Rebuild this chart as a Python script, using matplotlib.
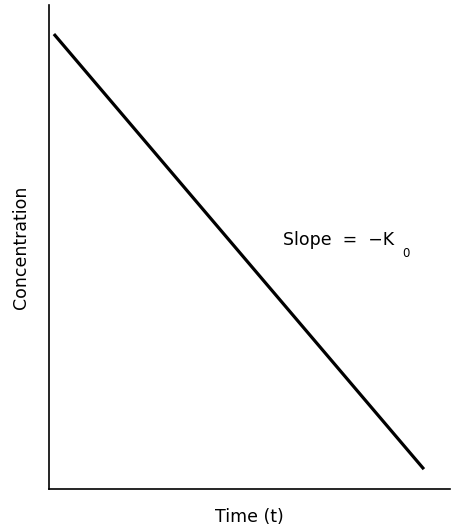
import matplotlib
matplotlib.use('Agg')
import matplotlib.pyplot as plt

# zero-order decline: concentration vs time (arbitrary units)
time = [1.1, 93.6]
conc = [94.0, 4.1]
xlabel = 'Time (t)'
ylabel = 'Concentration'

fig = plt.figure(figsize=[4.52, 5.29], dpi=100)
ax = fig.add_axes([49.5/452, 40/529, 400/452, 484/529])
ax.plot(time, conc, color='black', lw=2.3, solid_capstyle='butt')
ax.set_xlim(0, 100)
ax.set_ylim(0, 100)
for s in ['top', 'right']:
    ax.spines[s].set_visible(False)
for s in ['left', 'bottom']:
    ax.spines[s].set_linewidth(1.2)
ax.set_xticks([])
ax.set_yticks([])
ax.set_xlabel(xlabel, fontsize=12.5, labelpad=14)
ax.set_ylabel(ylabel, fontsize=12.5, labelpad=14)
# slope annotation, K with a small subscript 0
ax.text(58.4, 51.4, 'Slope  =  \u2212K', fontsize=12.5, va='center', ha='left')
ax.text(88.2, 48.7, '0', fontsize=8.5, va='center', ha='left')

fig.savefig('out.png', dpi=100)
